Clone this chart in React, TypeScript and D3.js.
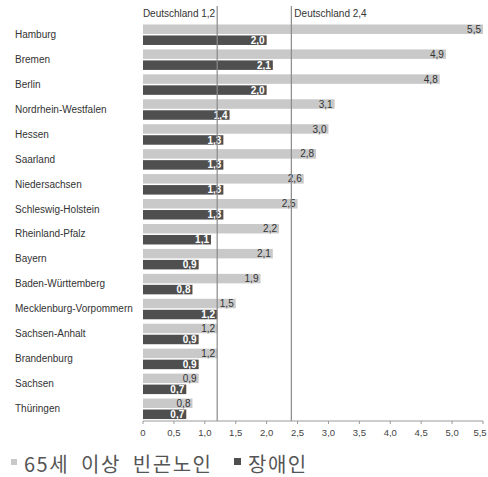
import React from "react";
import * as d3 from "d3";

const categories = [
  "Hamburg", "Bremen", "Berlin", "Nordrhein-Westfalen", "Hessen", "Saarland",
  "Niedersachsen", "Schleswig-Holstein", "Rheinland-Pfalz", "Bayern",
  "Baden-Württemberg", "Mecklenburg-Vorpommern", "Sachsen-Anhalt",
  "Brandenburg", "Sachsen", "Thüringen",
];
const elderlyPoor = [5.5, 4.9, 4.8, 3.1, 3.0, 2.8, 2.6, 2.5, 2.2, 2.1, 1.9, 1.5, 1.2, 1.2, 0.9, 0.8];
const disabled = [2.0, 2.1, 2.0, 1.4, 1.3, 1.3, 1.3, 1.3, 1.1, 0.9, 0.8, 1.2, 0.9, 0.9, 0.7, 0.7];
const xTicks = [0, 0.5, 1, 1.5, 2, 2.5, 3, 3.5, 4, 4.5, 5, 5.5];
const refLines = [
  { value: 1.2, label: "Deutschland 1,2", side: "left" },
  { value: 2.4, label: "Deutschland 2,4", side: "right" },
];
const seriesNames = ["65세 이상 빈곤노인", "장애인"];

const W = 488;
const H = 477;
const LIGHT = "#c9c9c9";
const DARK = "#4f4f4f";
const fmt = (v: number) => v.toFixed(1).replace(".", ",");

export default function App() {
  const x = d3.scaleLinear().domain([0, 5.5]).range([143, 483]);
  const y = d3.scaleBand<string>().domain(categories).range([22, 421]).paddingInner(0).paddingOuter(0);
  const bw = y.bandwidth();
  const barH = 9.5;
  const font = "'Liberation Sans', Arial, sans-serif";
  const kfont = "'Noto Sans CJK KR', sans-serif";

  return (
    <svg width={W} height={H} style={{ position: "absolute", left: 0, top: 0, background: "#fff" }}>
      {categories.map((c, i) => {
        const y0 = y(c)!;
        const lightY = y0 + bw / 2 - barH - 0.5;
        const darkY = y0 + bw / 2 + 1;
        return (
          <g key={c}>
            <text x={15} y={y0 + bw / 2 + 3.5} fontFamily={font} fontSize={10} fill="#333">{c}</text>
            <rect x={x(0)} y={lightY} width={x(elderlyPoor[i]) - x(0)} height={barH} fill={LIGHT} />
            <rect x={x(0)} y={darkY} width={x(disabled[i]) - x(0)} height={barH} fill={DARK} />
            <text x={x(elderlyPoor[i]) - 2} y={lightY + barH - 1.2} textAnchor="end" fontFamily={font} fontSize={10} fill="#333">{fmt(elderlyPoor[i])}</text>
            <text x={x(disabled[i]) - 2} y={darkY + barH - 1.2} textAnchor="end" fontFamily={font} fontSize={10} fontWeight="bold" fill="#fff">{fmt(disabled[i])}</text>
          </g>
        );
      })}
      {refLines.map((r) => (
        <g key={r.label}>
          <line x1={x(r.value)} x2={x(r.value)} y1={6} y2={421} stroke="#8a8a8a" strokeWidth={1.2} />
          <text
            x={r.side === "left" ? x(r.value) - 2 : x(r.value) + 3}
            y={17}
            textAnchor={r.side === "left" ? "end" : "start"}
            fontFamily={font}
            fontSize={10}
            fill="#333"
          >
            {r.label}
          </text>
        </g>
      ))}
      <line x1={x(0)} x2={x(5.5)} y1={421} y2={421} stroke="#9a9a9a" />
      {xTicks.map((t) => (
        <g key={t}>
          <line x1={x(t)} x2={x(t)} y1={421} y2={424} stroke="#9a9a9a" />
          <text x={Math.min(x(t), W - 8)} y={436} textAnchor="middle" fontFamily={font} fontSize={9.5} fill="#444">{t === 0 ? "0" : fmt(t)}</text>
        </g>
      ))}
      <rect x={11} y={459} width={6} height={6} fill={LIGHT} />
      <text x={24} y={472} fontFamily={kfont} fontSize={20} letterSpacing={1.5} wordSpacing={6} fill="#555">{seriesNames[0]}</text>
      <rect x={234} y={458} width={7} height={7} fill={DARK} />
      <text x={248} y={472} fontFamily={kfont} fontSize={20} letterSpacing={1.5} fill="#555">{seriesNames[1]}</text>
    </svg>
  );
}
